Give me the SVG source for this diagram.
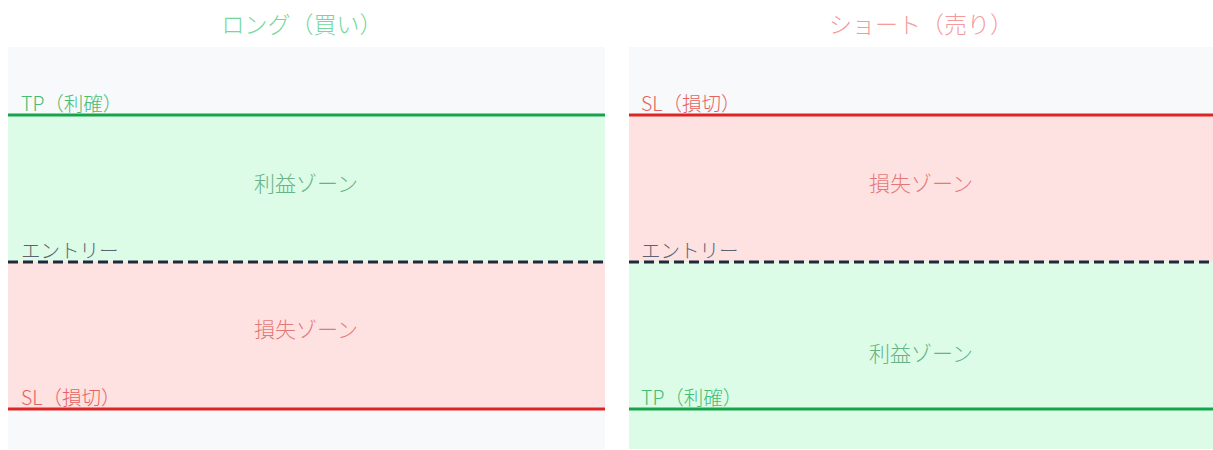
<svg xmlns="http://www.w3.org/2000/svg" width="1213" height="450" viewBox="0 0 1213 450">
<style>
text{font-family:"Noto Sans CJK JP","Noto Sans",sans-serif;font-weight:300}
.title{font-size:23px;text-anchor:middle}
.zone{font-size:21px;text-anchor:middle;dominant-baseline:central}
.lbl{font-size:19.5px}
.gT{fill:#72d89c}.rT{fill:#f59a9a}
.gZ{fill:#66b384}.rZ{fill:#e37878}
.gL{fill:#45bd72}.rL{fill:#e66262}.eL{fill:#5b6370}
.bg{fill:#f8f9fb}.gzone{fill:#dcfce7}.rzone{fill:#fee2e2}
.gline{stroke:#16a34a;stroke-width:3}.rline{stroke:#dc2626;stroke-width:3}
.entry{stroke:#1e293b;stroke-width:3;stroke-dasharray:10 5}
</style>
<rect width="1213" height="450" fill="#ffffff"/>
<g id="long">
<text class="title gT" x="302" y="33">ロング（買い）</text>
<rect class="bg" x="8" y="47" width="597" height="402"/>
<rect class="gzone" x="8" y="115" width="597" height="147"/>
<rect class="rzone" x="8" y="262" width="597" height="147"/>
<text class="zone gZ" x="306" y="182">利益ゾーン</text>
<text class="zone rZ" x="306" y="328">損失ゾーン</text>
</g>
<g id="short">
<text class="title rT" x="921" y="33">ショート（売り）</text>
<rect class="bg" x="629" y="47" width="584" height="402"/>
<rect class="rzone" x="629" y="115" width="584" height="147"/>
<rect class="gzone" x="629" y="262" width="584" height="187"/>
<text class="zone rZ" x="921" y="182">損失ゾーン</text>
<text class="zone gZ" x="921" y="352">利益ゾーン</text>
</g>
<g id="connectors">
<line class="gline" x1="8" y1="115" x2="605" y2="115"/>
<line class="entry" x1="8" y1="262" x2="605" y2="262"/>
<line class="rline" x1="8" y1="409" x2="605" y2="409"/>
<line class="rline" x1="629" y1="115" x2="1213" y2="115"/>
<line class="entry" x1="629" y1="262" x2="1213" y2="262"/>
<line class="gline" x1="629" y1="409" x2="1213" y2="409"/>
</g>
<g id="labels">
<text class="lbl gL" x="21" y="111">TP（利確）</text>
<text class="lbl eL" x="21" y="258">エントリー</text>
<text class="lbl rL" x="21" y="405">SL（損切）</text>
<text class="lbl rL" x="641" y="111">SL（損切）</text>
<text class="lbl eL" x="641" y="258">エントリー</text>
<text class="lbl gL" x="641" y="405">TP（利確）</text>
</g>
</svg>
